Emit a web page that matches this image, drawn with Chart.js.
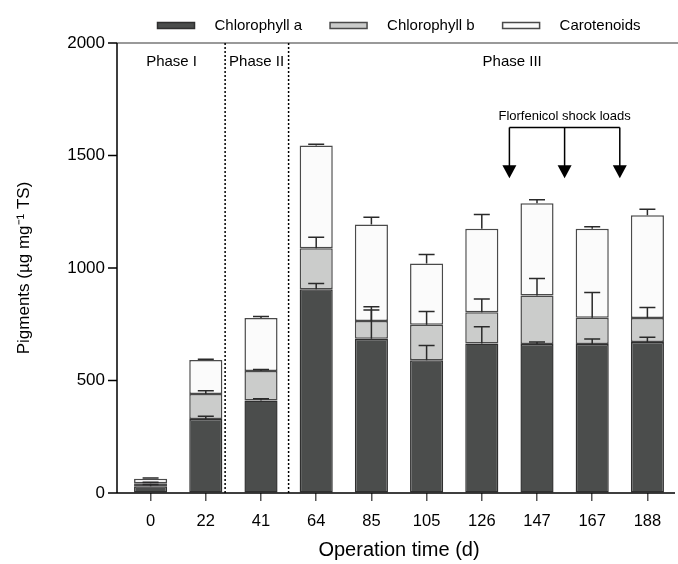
<!DOCTYPE html>
<html>
<head>
<meta charset="utf-8">
<script src="https://cdn.jsdelivr.net/npm/chart.js@4.4.1/dist/chart.umd.min.js"></script>
<style>
  html, body { margin: 0; padding: 0; background: #fff; }
  #wrap { width: 678px; height: 564px; }
</style>
</head>
<body>
<div id="wrap"><canvas id="pigChart" width="678" height="564"></canvas></div>
<script>
// operation days (x categories)
const days = ['0', '22', '41', '64', '85', '105', '126', '147', '167', '188'];

// stacked pigment values (ug/mg TS)
const chlA = [30, 329, 411, 906, 686, 590, 665, 662, 662, 671];
const chlB = [13, 111, 131, 182, 78, 158, 138, 216, 117, 107];
const carot = [20, 151, 236, 456, 429, 272, 372, 410, 396, 457];

// upper error bars (SD) for each segment
const errA = [8, 12, 8, 25, 127, 66, 74, 9, 22, 21];
const errB = [5, 15, 7, 49, 64, 59, 59, 75, 112, 47];
const errC = [4, 4, 7, 6, 33, 40, 63, 15, 8, 26];

const yTicks = [0, 500, 1000, 1500, 2000];

// phase boundaries (in category index units) and labels
const phaseLines = [1.35, 2.5];
const phaseNames = ['Phase I', 'Phase II', 'Phase III'];
const phaseLabelPos = [0.38, 1.92, 6.55];

// florfenicol shock load arrows (between categories)
const shockPos = [6.5, 7.5, 8.5];

const FONT = '"Liberation Sans", Arial, Helvetica, sans-serif';
const AXIS_GAP = 6; // y axis line sits a little left of the first category

function idxToPx(scale, v) {
    const i = Math.floor(v);
    const f = v - i;
    const a = scale.getPixelForValue(i);
    const b = scale.getPixelForValue(i + 1);
    return a + (b - a) * f;
}

const errorBars = {
    id: 'errorBars',
    afterDatasetsDraw(chart) {
        const ctx = chart.ctx;
        const x = chart.scales.x;
        const y = chart.scales.y;
        const errs = [errA, errB, errC];
        const vals = [chlA, chlB, carot];
        ctx.save();
        ctx.strokeStyle = '#2a2a2a';
        ctx.lineWidth = 1.5;
        days.forEach((d, i) => {
            let cum = 0;
            for (let s = 0; s < 3; s++) {
                cum += vals[s][i];
                const px = x.getPixelForValue(i);
                const y0 = y.getPixelForValue(cum);
                const y1 = y.getPixelForValue(cum + errs[s][i]);
                ctx.beginPath();
                ctx.moveTo(px, y0);
                ctx.lineTo(px, y1);
                ctx.moveTo(px - 8, y1);
                ctx.lineTo(px + 8, y1);
                ctx.stroke();
            }
        });
        ctx.restore();
    }
};

const decorations = {
    id: 'decorations',
    beforeDatasetsDraw(chart) {
        const ctx = chart.ctx;
        const area = chart.chartArea;
        const x = chart.scales.x;
        const y = chart.scales.y;
        const axisX = area.left - AXIS_GAP;
        ctx.save();
        // top frame line
        ctx.strokeStyle = '#777';
        ctx.lineWidth = 1.5;
        ctx.beginPath();
        ctx.moveTo(axisX, area.top);
        ctx.lineTo(chart.width, area.top);
        ctx.stroke();
        // dotted phase separators
        ctx.strokeStyle = '#000';
        ctx.lineWidth = 1.5;
        ctx.setLineDash([2, 2]);
        phaseLines.forEach(p => {
            const px = idxToPx(x, p);
            ctx.beginPath();
            ctx.moveTo(px, area.top);
            ctx.lineTo(px, area.bottom);
            ctx.stroke();
        });
        ctx.setLineDash([]);
        // phase labels
        ctx.fillStyle = '#000';
        ctx.font = '15px ' + FONT;
        ctx.textAlign = 'center';
        ctx.textBaseline = 'middle';
        phaseNames.forEach((n, k) => {
            ctx.fillText(n, idxToPx(x, phaseLabelPos[k]), y.getPixelForValue(1915));
        });
        ctx.restore();
    },
    afterDatasetsDraw(chart) {
        const ctx = chart.ctx;
        const area = chart.chartArea;
        const x = chart.scales.x;
        const y = chart.scales.y;
        const axisX = area.left - AXIS_GAP;
        ctx.save();
        // axes lines and y tick marks
        ctx.strokeStyle = '#000';
        ctx.lineWidth = 1.5;
        ctx.beginPath();
        ctx.moveTo(axisX, area.top);
        ctx.lineTo(axisX, area.bottom);
        ctx.lineTo(area.right, area.bottom);
        yTicks.forEach(v => {
            const py = y.getPixelForValue(v);
            ctx.moveTo(axisX - 9, py);
            ctx.lineTo(axisX, py);
        });
        ctx.stroke();

        // shock load arrows
        const xs = shockPos.map(p => idxToPx(x, p));
        const yLine = y.getPixelForValue(1625);
        const yTip = y.getPixelForValue(1399);
        ctx.fillStyle = '#000';
        ctx.beginPath();
        ctx.moveTo(xs[0], yLine);
        ctx.lineTo(xs[xs.length - 1], yLine);
        xs.forEach(px => {
            ctx.moveTo(px, yLine);
            ctx.lineTo(px, yTip - 10);
        });
        ctx.stroke();
        xs.forEach(px => {
            ctx.beginPath();
            ctx.moveTo(px - 7, yTip - 13);
            ctx.lineTo(px + 7, yTip - 13);
            ctx.lineTo(px, yTip);
            ctx.closePath();
            ctx.fill();
        });
        ctx.font = '13px ' + FONT;
        ctx.textAlign = 'center';
        ctx.textBaseline = 'middle';
        ctx.fillText('Florfenicol shock loads', (xs[0] + xs[xs.length - 1]) / 2, y.getPixelForValue(1672));
        ctx.restore();
    }
};

const ctx = document.getElementById('pigChart').getContext('2d');
new Chart(ctx, {
    type: 'bar',
    data: {
        labels: days,
        datasets: [
            { label: 'Chlorophyll a', data: chlA, backgroundColor: '#4b4d4c', borderColor: '#2f2f2f' },
            { label: 'Chlorophyll b', data: chlB, backgroundColor: '#cbcccb', borderColor: '#4a4a4a' },
            { label: 'Carotenoids', data: carot, backgroundColor: '#fbfbfb', borderColor: '#4a4a4a' }
        ]
    },
    options: {
        responsive: false,
        animation: false,
        devicePixelRatio: 1,
        layout: { padding: { top: -10, right: 3, left: 0, bottom: 0 } },
        datasets: {
            bar: {
                barPercentage: 0.6,
                categoryPercentage: 1,
                borderWidth: 1.5,
                borderSkipped: false
            }
        },
        plugins: {
            legend: {
                position: 'top',
                fullSize: false,
                labels: {
                    boxWidth: 37,
                    boxHeight: 6,
                    padding: 28,
                    color: '#000',
                    font: { family: FONT, size: 15 },
                    generateLabels(chart) {
                        const items = Chart.defaults.plugins.legend.labels.generateLabels(chart);
                        items.forEach(it => { it.text = '   ' + it.text; });
                        return items;
                    }
                }
            },
            tooltip: { enabled: false }
        },
        scales: {
            x: {
                stacked: true,
                afterFit(scale) { scale.height = 71; },
                grid: { display: true, drawOnChartArea: false, offset: false, tickLength: 8, color: '#555', lineWidth: 1.5 },
                border: { display: false },
                ticks: { color: '#000', font: { family: FONT, size: 16.5 }, padding: 11 },
                title: { display: true, text: 'Operation time (d)', color: '#000', font: { family: FONT, size: 20 }, padding: { top: 0, bottom: 2 } }
            },
            y: {
                stacked: true,
                min: 0,
                max: 2000,
                afterFit(scale) { scale.width = 123; },
                afterBuildTicks(scale) { scale.ticks = yTicks.map(v => ({ value: v })); },
                grid: { display: true, drawOnChartArea: false, tickLength: 15, color: 'rgba(0,0,0,0)' },
                border: { display: false },
                ticks: { color: '#000', font: { family: FONT, size: 17 }, padding: 3, callback: v => String(v) },
                title: { display: true, text: 'Pigments (µg mg⁻¹ TS)', color: '#000', font: { family: FONT, size: 17 }, padding: { top: 14, bottom: 0 } }
            }
        }
    },
    plugins: [decorations, errorBars]
});
</script>
</body>
</html>
